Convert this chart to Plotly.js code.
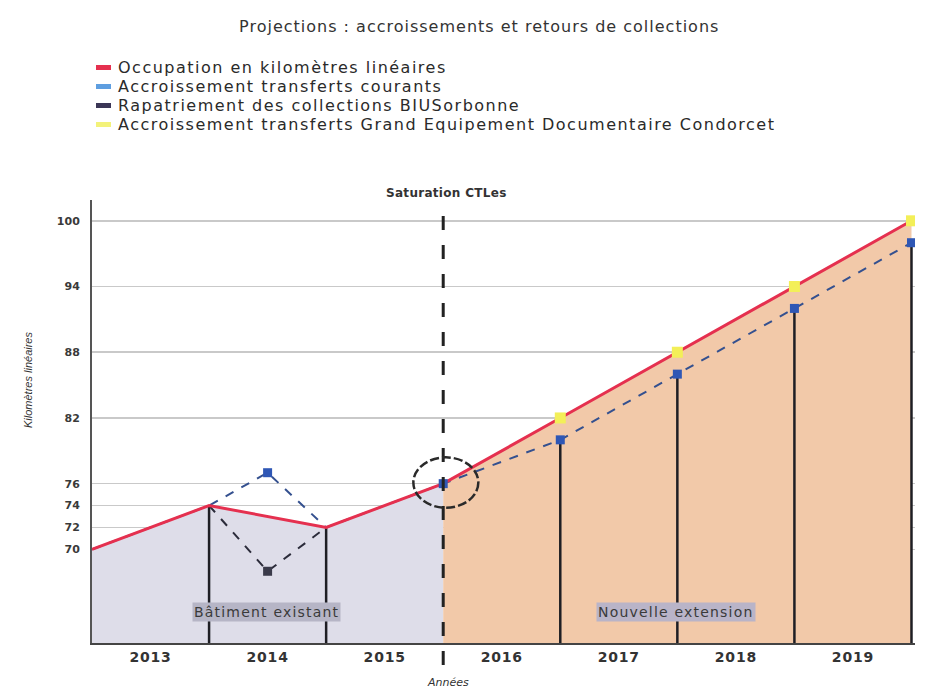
<!DOCTYPE html>
<html>
<head>
<meta charset="utf-8">
<script src="https://cdn.plot.ly/plotly-3.0.1.min.js"></script>
<style>html,body{margin:0;padding:0;background:#fff;}#chart{width:936px;height:692px;}</style>
</head>
<body>
<div id="chart"></div>
<script>
// Year slots: each year occupies one unit between boundary positions
var years = ["2013", "2014", "2015", "2016", "2017", "2018", "2019"];
var yearCenters = [0.5, 1.5, 2.5, 3.5, 4.5, 5.5, 6.5];

// Occupation en kilomètres linéaires (at year boundaries 0..7)
var occX = [0, 1, 2, 3, 4, 5, 6, 7];
var occY = [70, 74, 72, 76, 82, 88, 94, 100];

// Existing building part / new extension part
var existX = [0, 1, 2, 3];
var existY = [70, 74, 72, 76];
var extX = [3, 4, 5, 6, 7];
var extY = [76, 82, 88, 94, 100];

// Accroissement transferts courants
var courantsX = [0, 1, 1.5, 2, 3, 4, 5, 6, 7];
var courantsY = [70, 74, 77, 72, 76, 80, 86, 92, 98];
var courantsMarkX = [1.5, 3, 4, 5, 6, 7];
var courantsMarkY = [77, 76, 80, 86, 92, 98];

// Rapatriement des collections BIUSorbonne
var biuX = [1, 1.5, 2];
var biuY = [74, 68, 72];

// Accroissement transferts Grand Equipement Documentaire Condorcet
var gedX = [4, 5, 6, 7];
var gedY = [82, 88, 94, 100];

// Vertical drop lines positions and heights
var dropX = [1, 2, 4, 5, 6, 7];
var dropY = [74, 72, 80, 86, 92, 98];

var yTicks = [70, 72, 74, 76, 82, 88, 94, 100];

var legendNames = ["Occupation en kilomètres linéaires",
                   "Accroissement transferts courants",
                   "Rapatriement des collections BIUSorbonne",
                   "Accroissement transferts Grand Equipement Documentaire Condorcet"];
var legendColors = ["#e5304f", "#5e9ee0", "#3b3656", "#f3f27a"];

var yRange = [61.45, 101.9];
var xRange = [0, 7.03];

var dx = [], dy = [];
for (var i = 0; i < dropX.length; i++) {
  dx.push(dropX[i], dropX[i], null);
  dy.push(yRange[0], dropY[i], null);
}

var F = "DejaVu Sans, Open Sans, sans-serif";
function sp(t, s) { return '<span style="letter-spacing:' + s + 'px">' + t + '</span>'; }

var traces = [
  {x: existX, y: existY, type: "scatter", mode: "lines", fill: "tozeroy",
   fillcolor: "#dedde9", line: {width: 0, color: "rgba(0,0,0,0)"}, showlegend: false, hoverinfo: "skip"},
  {x: extX, y: extY, type: "scatter", mode: "lines", fill: "tozeroy",
   fillcolor: "#f2c9a9", line: {width: 0, color: "rgba(0,0,0,0)"}, showlegend: false, hoverinfo: "skip"},
  {x: dx, y: dy, type: "scatter", mode: "lines", line: {color: "#1e1e24", width: 2.5},
   showlegend: false, hoverinfo: "skip", connectgaps: false},
  {x: courantsX, y: courantsY, type: "scatter", mode: "lines", name: legendNames[1],
   line: {color: "#34508f", width: 2, dash: "dash"}, showlegend: false},
  {x: biuX, y: biuY, type: "scatter", mode: "lines", name: legendNames[2],
   line: {color: "#2b2b3a", width: 2, dash: "dash"}, showlegend: false},
  {x: occX, y: occY, type: "scatter", mode: "lines", name: legendNames[0],
   line: {color: "#e5304f", width: 3}, showlegend: false},
  {x: courantsMarkX, y: courantsMarkY, type: "scatter", mode: "markers", name: legendNames[1],
   marker: {symbol: "square", size: 9, color: "#2f57b5"}, showlegend: false},
  {x: [biuX[1]], y: [biuY[1]], type: "scatter", mode: "markers", name: legendNames[2],
   marker: {symbol: "square", size: 9, color: "#3a3a4a"}, showlegend: false},
  {x: gedX, y: gedY, type: "scatter", mode: "markers", name: legendNames[3],
   marker: {symbol: "square", size: 11, color: "#f3ef58"}, showlegend: false}
];

// plot area in pixels: left 92, top 200, width 823, height 443
function px2x(p) { return (p - 92) / 823; }
function px2y(p) { return (643 - p) / 443; }

var annotations = [
  {text: "<b>" + sp("Saturation CTLes", 0.3) + "</b>", xref: "x", yref: "paper", x: 3.03, y: px2y(193), yanchor: "middle",
   showarrow: false, font: {family: F, size: 12, color: "#333"}},
  {text: sp("Bâtiment existant", 1.2), xref: "x", yref: "y", x: 1.49, y: 64.3, showarrow: false,
   bgcolor: "#b6b5c6", font: {family: F, size: 14, color: "#3a3a3a"}, borderpad: 1},
  {text: sp("Nouvelle extension", 1.2), xref: "x", yref: "y", x: 4.99, y: 64.3, showarrow: false,
   bgcolor: "#b9b4c8", font: {family: F, size: 14, color: "#3a3a3a"}, borderpad: 1},
  {text: "<i>Kilomètres linéaires</i>", xref: "paper", yref: "paper", x: px2x(20), y: px2y(380),
   textangle: -90, showarrow: false, font: {family: "Liberation Sans Narrow, sans-serif", size: 11, color: "#333"}},
  {text: "<i>Années</i>", xref: "x", yref: "paper", x: 3.04, y: px2y(682), yanchor: "middle",
   showarrow: false, font: {family: F, size: 11, color: "#333"}}
];
var legendRows = [67.5, 86.5, 105.5, 124.5];
var shapes = [
  {type: "line", xref: "x", yref: "paper", x0: 3, x1: 3, y0: px2y(665), y1: px2y(210),
   line: {color: "#222", width: 3, dash: "14px,15px"}},
  {type: "circle", xref: "x", yref: "y", x0: 2.745, x1: 3.3, y0: 73.8, y1: 78.4,
   line: {color: "#2a2a2a", width: 2.5, dash: "9px,3px"}}
];
for (var k = 0; k < legendNames.length; k++) {
  annotations.push({text: sp(legendNames[k], 1.5), xref: "paper", yref: "paper", x: px2x(116), y: px2y(legendRows[k]),
    xanchor: "left", yanchor: "middle", showarrow: false, font: {family: F, size: 16, color: "#2a2a2a"}});
  shapes.push({type: "line", xref: "paper", yref: "paper", x0: px2x(96), x1: px2x(111),
    y0: px2y(legendRows[k]), y1: px2y(legendRows[k]), line: {color: legendColors[k], width: 5}});
}

var layout = {
  width: 936, height: 692,
  margin: {l: 92, r: 21, t: 200, b: 49},
  paper_bgcolor: "#ffffff", plot_bgcolor: "#ffffff",
  font: {family: F, color: "#333"},
  title: {text: sp("Projections : accroissements et retours de collections", 1),
          x: 0.512, xanchor: "center", y: 1 - 26 / 692, yanchor: "middle",
          font: {family: F, size: 16, color: "#333"}},
  showlegend: false,
  xaxis: {range: xRange, showgrid: false, zeroline: false,
          tickvals: yearCenters, ticktext: years.map(function (t) { return sp(t, 0.8); }), ticks: "",
          tickfont: {family: F, size: 14, color: "#333", weight: "bold"},
          showline: true, linecolor: "#444", linewidth: 2},
  yaxis: {range: yRange, tickvals: yTicks, ticktext: yTicks.map(String),
          showgrid: true, gridcolor: "#c9c9c9", gridwidth: 1.5, zeroline: false,
          ticks: "", ticklabelstandoff: 8, tickfont: {family: F, size: 11, color: "#3a3a3a", weight: "bold"},
          showline: true, linecolor: "#555", linewidth: 2},
  shapes: shapes,
  annotations: annotations
};

Plotly.newPlot("chart", traces, layout, {displayModeBar: false, staticPlot: true});
</script>
</body>
</html>
